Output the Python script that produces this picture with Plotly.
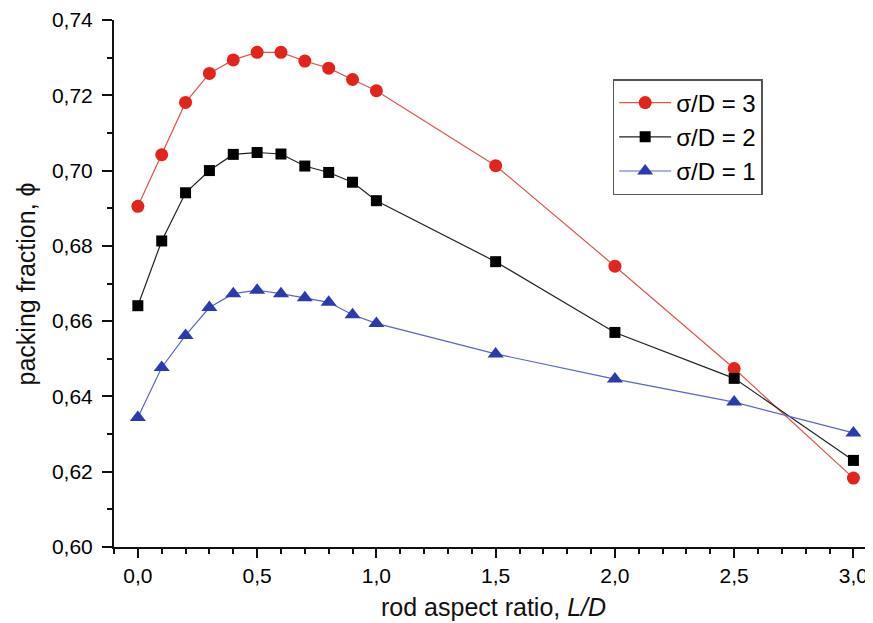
import plotly.graph_objects as go

x_ld = [0.0, 0.1, 0.2, 0.3, 0.4, 0.5, 0.6, 0.7, 0.8, 0.9, 1.0, 1.5, 2.0, 2.5, 3.0]
phi_s3 = [0.6905, 0.7042, 0.7181, 0.7258, 0.7294, 0.7314, 0.7314, 0.7291, 0.7272, 0.7242, 0.7212, 0.7013, 0.6746, 0.6474, 0.6183]
phi_s2 = [0.6641, 0.6813, 0.6941, 0.7000, 0.7043, 0.7048, 0.7044, 0.7012, 0.6995, 0.6969, 0.6920, 0.6758, 0.6570, 0.6448, 0.6230]
phi_s1 = [0.6344, 0.6477, 0.6562, 0.6636, 0.6673, 0.6682, 0.6673, 0.6662, 0.6650, 0.6617, 0.6594, 0.6513, 0.6446, 0.6385, 0.6303]
names = ["σ/D = 3", "σ/D = 2", "σ/D = 1"]

FONT = "Arial, Liberation Sans, sans-serif"

fig = go.Figure()
fig.add_trace(go.Scatter(x=x_ld, y=phi_s3, name=names[0], mode="lines+markers",
                         line=dict(color="#e0544c", width=1.2),
                         marker=dict(symbol="circle", size=13, color="#e3241b")))
fig.add_trace(go.Scatter(x=x_ld, y=phi_s2, name=names[1], mode="lines+markers",
                         line=dict(color="#222222", width=1.2),
                         marker=dict(symbol="square", size=11, color="#000000")))
fig.add_trace(go.Scatter(x=x_ld, y=phi_s1, name=names[2], mode="lines+markers",
                         line=dict(color="#5a64c8", width=1.2),
                         marker=dict(symbol="triangle-up", size=14, color="#2b3aae")))

# the page body has an 8px margin, so the figure is 8px smaller than the window
fig.update_layout(
    width=865, height=615,
    margin=dict(l=106, r=0, t=12, b=76),
    paper_bgcolor="white", plot_bgcolor="white",
    separators=",.",
    font=dict(family=FONT, size=21, color="#000000"),
    showlegend=True,
    legend=dict(x=0.657, y=0.888, xanchor="left", yanchor="top",
                bordercolor="#555555", borderwidth=1.5, bgcolor="white",
                font=dict(family=FONT, size=24, color="#000000"),
                itemwidth=52, tracegroupgap=0),
    xaxis=dict(range=[-0.1, 3.082], showgrid=False, zeroline=False,
               showline=True, linecolor="#111111", linewidth=2,
               ticks="outside", ticklen=9, tickwidth=2, tickcolor="#111111",
               tickvals=[0, 0.5, 1.0, 1.5, 2.0, 2.5, 3.0], tickformat=".1f",
               ticklabelstandoff=0,
               minor=dict(ticks="outside", ticklen=5, tickwidth=1.5, tickcolor="#111111", dtick=0.1, tick0=0)),
    yaxis=dict(range=[0.60, 0.74], showgrid=False, zeroline=False,
               showline=True, linecolor="#111111", linewidth=2,
               ticks="outside", ticklen=10, tickwidth=2, tickcolor="#111111",
               dtick=0.02, tick0=0.60, tickformat=".2f",
               ticklabelstandoff=5,
               minor=dict(ticks="outside", ticklen=5, tickwidth=1.5, tickcolor="#111111", dtick=0.01, tick0=0.60)),
    annotations=[
        dict(text="packing fraction, ϕ", xref="paper", yref="paper", x=-0.116, y=0.5,
             textangle=-90, showarrow=False, xanchor="center", yanchor="middle",
             font=dict(family=FONT, size=25, color="#111111")),
        dict(text="rod aspect ratio, <i>L/D</i>", xref="paper", yref="paper", x=0.5, y=-0.114,
             showarrow=False, xanchor="center", yanchor="middle",
             font=dict(family=FONT, size=25, color="#111111")),
    ],
)

fig.write_html("out.html")
